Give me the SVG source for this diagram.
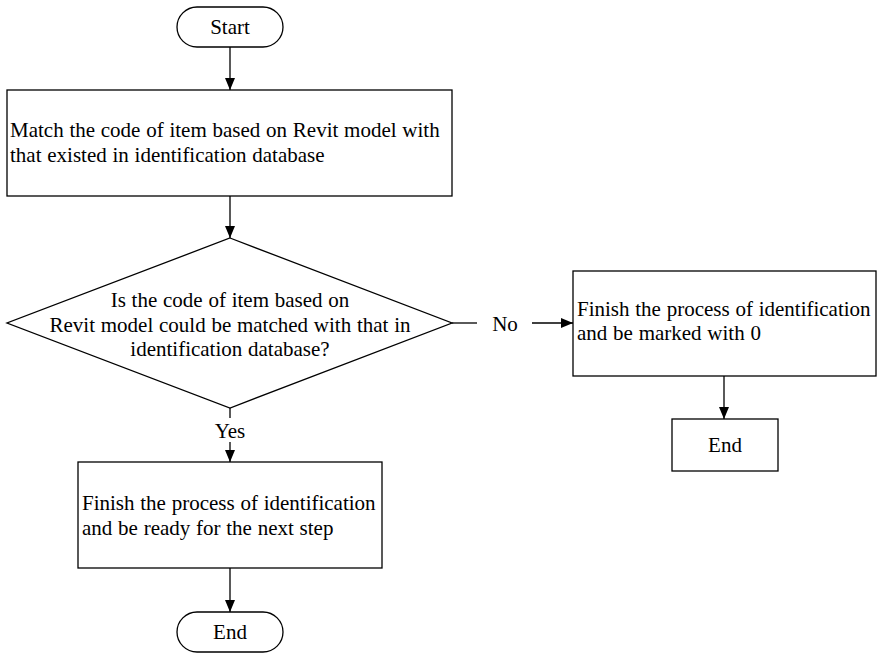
<svg xmlns="http://www.w3.org/2000/svg" width="877" height="653" viewBox="0 0 877 653">
  <defs>
    <marker id="arrow" viewBox="0 0 12 10" refX="12" refY="5" markerWidth="12" markerHeight="10" markerUnits="userSpaceOnUse" orient="auto">
      <path d="M0,0 L12,5 L0,10 Z" fill="#000000"/>
    </marker>
  </defs>

  <g id="connectors" fill="none" stroke="#000000" stroke-width="1.3">
    <line x1="230" y1="47" x2="230" y2="90" marker-end="url(#arrow)"/>
    <line x1="230" y1="196" x2="230" y2="238" marker-end="url(#arrow)"/>
    <line x1="452" y1="323" x2="477" y2="323"/>
    <line x1="532" y1="323" x2="573" y2="323" marker-end="url(#arrow)"/>
    <line x1="724" y1="376" x2="724" y2="419" marker-end="url(#arrow)"/>
    <line x1="230" y1="408" x2="230" y2="418"/>
    <line x1="230" y1="442" x2="230" y2="462" marker-end="url(#arrow)"/>
    <line x1="230" y1="568" x2="230" y2="612" marker-end="url(#arrow)"/>
  </g>

  <g font-family="'Liberation Serif', 'Times New Roman', 'DejaVu Serif', serif" font-size="21" word-spacing="0.5" fill="#000000">
    <g id="labels" text-anchor="middle">
      <text x="505" y="331">No</text>
      <text x="230" y="438">Yes</text>
    </g>

    <g id="start">
      <rect x="177" y="7" width="106" height="40" rx="20" ry="20" fill="#ffffff" stroke="#000000" stroke-width="1.3"/>
      <text x="230" y="34" text-anchor="middle">Start</text>
    </g>

    <g id="match-code">
      <rect x="7" y="90" width="445" height="106" fill="#ffffff" stroke="#000000" stroke-width="1.3"/>
      <text x="10" y="137">Match the code of item based on Revit model with</text>
      <text x="10" y="162">that existed in identification database</text>
    </g>

    <g id="decision">
      <polygon points="230,238 452,323 230,408 7,323" fill="#ffffff" stroke="#000000" stroke-width="1.3"/>
      <text x="230" y="307" text-anchor="middle">Is the code of item based on</text>
      <text x="230" y="332" text-anchor="middle">Revit model could be matched with that in</text>
      <text x="230" y="356" text-anchor="middle">identification database?</text>
    </g>

    <g id="marked-zero">
      <rect x="573" y="271" width="303" height="105" fill="#ffffff" stroke="#000000" stroke-width="1.3"/>
      <text x="577" y="316">Finish the process of identification</text>
      <text x="577" y="340">and be marked with 0</text>
    </g>

    <g id="end-no">
      <rect x="672" y="419" width="106" height="52" fill="#ffffff" stroke="#000000" stroke-width="1.3"/>
      <text x="725" y="452" text-anchor="middle">End</text>
    </g>

    <g id="ready-next">
      <rect x="78" y="462" width="304" height="106" fill="#ffffff" stroke="#000000" stroke-width="1.3"/>
      <text x="82" y="510">Finish the process of identification</text>
      <text x="82" y="535">and be ready for the next step</text>
    </g>

    <g id="end-yes">
      <rect x="177" y="612" width="106" height="40" rx="20" ry="20" fill="#ffffff" stroke="#000000" stroke-width="1.3"/>
      <text x="230" y="639" text-anchor="middle">End</text>
    </g>
  </g>
</svg>
